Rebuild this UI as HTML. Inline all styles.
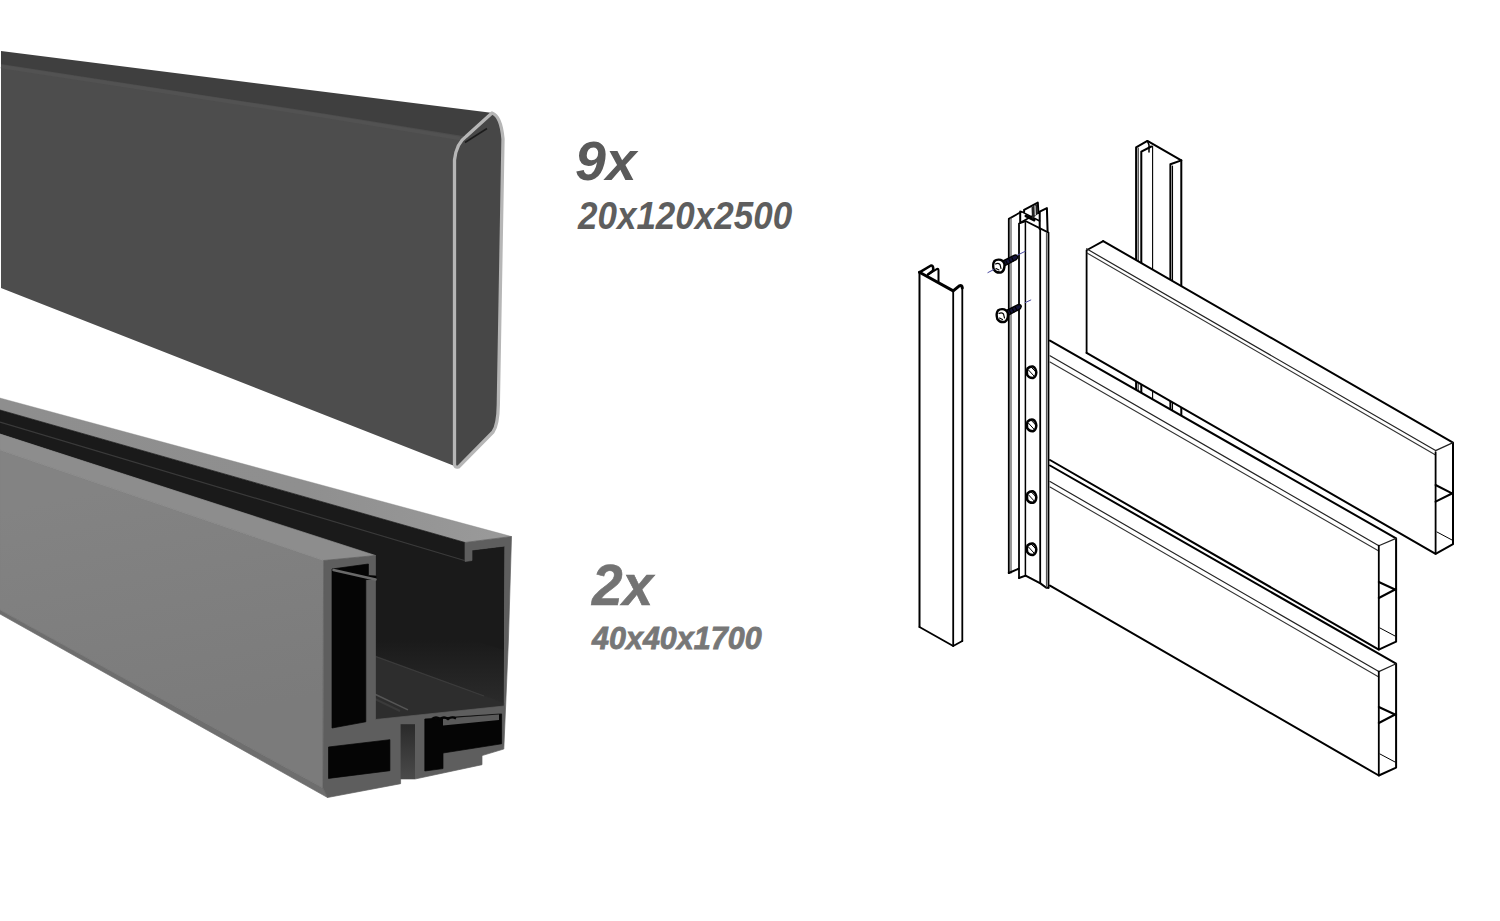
<!DOCTYPE html>
<html><head><meta charset="utf-8">
<style>
html,body{margin:0;padding:0;background:#fff;}
body{width:1500px;height:921px;overflow:hidden;position:relative;}
svg{position:absolute;left:0;top:0;}
.t{position:absolute;font-family:"Liberation Sans",sans-serif;font-weight:bold;font-style:italic;white-space:nowrap;line-height:1;}
</style></head>
<body>
<svg width="1500" height="921" viewBox="0 0 1500 921">
<!-- ===== TOP BEAM ===== -->
<g id="beam">
  <polygon points="1,51 493,113 463,140 330,118 1,68" fill="#3f3f3f"/>
  <path d="M1,64 L330,114.5 L466,136.5 Q456,143 454.5,160 L454.5,466 L1,288 Z" fill="#4d4d4d"/>
  <path d="M1,66.5 L330,117 L460,138.5" stroke="#525252" stroke-width="3.5" fill="none"/>
  <path d="M492,112 Q501,116 503,139 L498.3,405 Q498,425 493,432 L458.5,467 Q454.5,468 454.5,464 L454.5,160 Q456.5,143 466,136.5 Z" fill="#474747"/>
  <path d="M454.5,464 L454.5,160 Q456.5,143 466,136.5 L492,113 Q501,116 503,139 L498.3,405 Q498,425 493,432 L458.5,467 Q454.5,468 454.5,464 Z" fill="none" stroke="#b6b6b6" stroke-width="3.3" stroke-linejoin="round"/>
  <path d="M465,142.5 L487,128.5" stroke="#1c1c1c" stroke-width="1.6"/>
</g>
<!-- ===== U CHANNEL ===== -->
<g id="chan">
  <!-- lip top surface -->
  <defs><linearGradient id="lipg" gradientUnits="userSpaceOnUse" x1="0" y1="0" x2="511" y2="0"><stop offset="0" stop-color="#8e8e8e"/><stop offset="0.6" stop-color="#8f8f8f"/><stop offset="1" stop-color="#9a9a9a"/></linearGradient></defs>
  <polygon points="0,398 511.5,536.5 465,542.5 0,410" fill="url(#lipg)" stroke="#8e8e8e" stroke-width="0.4"/>
  <!-- dark channel interior -->
  <polygon points="0,410 465,542.5 465,561 472,558 472,550 504.5,546 504,713 375,730 375,556 0,434" fill="#1a1a1a" stroke="#1a1a1a" stroke-width="0.7"/>
  <path d="M0,422 L464.5,560.5" stroke="#3a3a3a" stroke-width="1.2"/>
  <!-- front wall top surface -->
  <polygon points="0,434 375.5,555.5 323.6,560.5 0,450" fill="#8d8d8d" stroke="#8d8d8d" stroke-width="0.7"/>
  <!-- front face -->
  <defs><linearGradient id="ffg" gradientUnits="userSpaceOnUse" x1="150" y1="480" x2="200" y2="720"><stop offset="0" stop-color="#838383"/><stop offset="1" stop-color="#7b7b7b"/></linearGradient></defs>
  <polygon points="0,450 323.6,560.5 323,788 0,610" fill="url(#ffg)" stroke="#7f7f7f" stroke-width="0.4"/>
  <polygon points="0,610 323,788 327.5,797.5 0,614" fill="#6e6e6e" stroke="#6e6e6e" stroke-width="0.7"/>
  <!-- channel floor -->
  <defs><linearGradient id="bwg" gradientUnits="userSpaceOnUse" x1="0" y1="640" x2="0" y2="700"><stop offset="0" stop-color="#1a1a1a"/><stop offset="1" stop-color="#2a2a2a"/></linearGradient></defs>
  <polygon points="375.5,610 504.2,650 504.2,704 375.5,656" fill="url(#bwg)"/>
  <polygon points="375.5,656 504.2,703 504.2,707 375.5,720.5" fill="#2d2d2d" stroke="#2d2d2d" stroke-width="0.7"/>
  <path d="M375.5,656.5 L484,696" stroke="#3c3c3c" stroke-width="1.2"/>
  <path d="M375,694.3 L408,709.9" stroke="#555" stroke-width="1.6"/>
  <path d="M375,699 L400,711" stroke="#3a3a3a" stroke-width="2"/>
  <!-- profile end face base -->
  <path d="M323.6,560.5 L375.5,555.5 L375.5,719.5 L504.2,706 L505,546 L472,550 L472,560.5 L465,561.5 L465,542.5 L511.5,536.5 L508.4,640 L503.8,749 L482,755.6 L482,764.7 L415,779 L400.6,779 L400.6,783.7 L327.5,797.5 L323,788 Z" fill="#5e5e5e" stroke="#5e5e5e" stroke-width="0.7"/>
  <!-- front wall inner black -->
  <path d="M332,569 L368.4,564 L368.4,575.5 L376,576 L376,579 L365.8,579.5 L365.8,721.8 L332,728 Z" fill="#050505" stroke="#050505" stroke-width="0.7"/>
  <path d="M333.5,570 L375.5,579.5" stroke="#6a6a6a" stroke-width="2.6" stroke-linecap="round"/>
  <!-- left bottom chamber -->
  <path d="M328.5,747 L389.9,739.7 L389.9,770.7 L328.5,778.4 Z" fill="#050505" stroke="#050505" stroke-width="0.7"/>
  <!-- slot -->
  <defs><linearGradient id="slotg" x1="0" y1="0" x2="0" y2="1"><stop offset="0" stop-color="#2a2a2a"/><stop offset="1" stop-color="#4a4a4a"/></linearGradient></defs>
  <polygon points="400.6,724.2 415,724.2 415,779 400.6,779" fill="url(#slotg)"/>
  <!-- right chamber -->
  <path d="M424.8,719 L501.6,713.9 L501.6,743.8 L443,753 L443,768.6 L424.8,771 Z" fill="#050505" stroke="#050505" stroke-width="0.7"/>
  <polygon points="443,718.5 499,714.5 499,720 443,725.5" fill="#5a5a5a"/>
  <path d="M432,719 Q436,716 440,719 Q444,716 448,719 Q452,716 456,718.5" stroke="#050505" stroke-width="2.2" fill="none"/>
</g>
</svg>

<div class="t" style="left:575px;top:133px;font-size:55.5px;color:#5a5a5a;transform:scaleY(1.015);transform-origin:0 0;">9x</div>
<div class="t" style="left:578px;top:195px;font-size:35px;color:#5e5e5e;transform:scaleY(1.12);transform-origin:0 0;">20x120x2500</div>
<div class="t" style="left:592px;top:558px;font-size:55px;color:#737373;-webkit-text-stroke:0.6px #737373;transform:scaleY(1.03);transform-origin:0 0;">2x</div>
<div class="t" style="left:592px;top:622px;font-size:30.5px;color:#777;-webkit-text-stroke:0.8px #777;transform:scaleY(1.03);transform-origin:0 0;">40x40x1700</div>

<svg width="1500" height="921" viewBox="0 0 1500 921" style="position:absolute;left:0;top:0;">
<g fill="none" stroke="#000" stroke-linecap="round" stroke-linejoin="round">
  <!-- cap piece -->
  <path d="M919.5,627 L953.2,646 L962.3,641" stroke-width="1.8"/>
  <path d="M919.5,627 L919.5,272.3" stroke-width="2.0"/>
  <path d="M953.2,291 L953.2,646" stroke-width="1.8"/>
  <path d="M962.3,288 L962.3,641" stroke-width="1.8"/>
  <path d="M919.5,272.3 L953.2,290.9 L959.3,285.8 Q962,284.5 962.3,288" stroke-width="3"/>
  <path d="M919.5,272.3 L931,265.5 Q933,265.3 933.2,268 L933.2,270.5 L928,274.5" stroke-width="2.6"/>
  <path d="M928,274.5 L937.1,268.9 Q938.5,268.3 938.5,270.5 L938.5,281.4" stroke-width="2.0"/>

  <!-- post -->
  <path d="M1008.8,573 L1008.8,218.9 L1021.5,211.7" stroke-width="1.8"/>
  <path d="M1011,573 L1011,218" stroke-width="1.2" stroke="#555"/>
  <path d="M1008.8,573 L1018.7,568.7" stroke-width="2"/>
  <path d="M1019,578 L1019,223.5 L1026,221.2 L1048.5,232.6 L1048.5,587.8" stroke-width="1.8"/>
  
  <path d="M1025.4,576 L1025.4,222.8" stroke-width="1.5"/>
  <path d="M1019,578 L1025.6,575.6 L1040.4,583.4 L1046.3,587.8 L1048.5,587.8" stroke-width="2"/>
  <path d="M1040.2,583 L1040.2,230" stroke-width="1.8"/>
  <path d="M1046.5,587 L1046.5,233" stroke-width="1.2" stroke="#555"/>
  <path d="M1020.2,222.8 L1020.2,211.5" stroke-width="2"/>
  <path d="M1039.7,229 L1039.7,211.7 L1046.9,208.1 L1047.6,231.3" stroke-width="2"/>
  <path d="M1024.1,212 L1024.1,209.8 L1037.8,202.6 L1038.4,213" stroke-width="2"/>
  <path d="M1021.5,211.7 L1039.7,221 M1021.5,222 L1039.7,212" stroke-width="1.5"/>
  <path d="M1026,216 L1034,220" stroke-width="3"/>
  <path d="M1031.5,207 L1037.2,204 L1037.8,214 L1032,219 Z" fill="#222" stroke="none"/>
  <path d="M1035,206 L1035.3,215" stroke="#ddd" stroke-width="1.2"/>
  <!-- bolts on post -->
  <g stroke-width="2.5">
    <g id="nut"><path d="M1027.5,368.5 Q1030,366 1033,366.5 Q1036,368 1036.3,372.5 Q1036,377 1033,378 Q1029,378.2 1027.2,375 Q1026.5,371 1027.5,368.5 Z" fill="#fff"/><path d="M1028.5,370 L1034,376 M1031,367 L1035.5,371.5" stroke-width="1"/></g>
    <use href="#nut" transform="translate(0,53.2)"/>
    <use href="#nut" transform="translate(0,124.8)"/>
    <use href="#nut" transform="translate(0,177)"/>
  </g>
  <!-- screws -->
  <g id="screw1">
    <path d="M1002,261.5 L1014.5,255.2 Q1017.5,254.5 1017.8,257 Q1017.5,259 1015.5,260 L1003.5,266.5 Z" fill="#14143a" stroke="#000" stroke-width="1.4"/>
    <path d="M1006,261 L1007.5,264 M1009,259.5 L1010.5,262.5 M1012,258 L1013.5,261" stroke="#000" stroke-width="1.2"/>
    <path d="M998.5,259.6 Q1003,259.5 1004.4,264 Q1005,270 1001.5,272.3 Q996.5,273.5 993.8,269.5 Q992.2,264 994.5,261 Q996,259.7 998.5,259.6 Z" fill="#fff" stroke="#000" stroke-width="2.4"/>
    <path d="M995.5,264 Q998,262.5 1000,264.5 L1001,268.5 M996,268.5 L999,270" stroke="#000" stroke-width="1.1"/>
  </g>
  <use href="#screw1" transform="translate(3.5,49.5)"/>
  <path d="M987.9,272.6 L993.9,269.5 M1017.4,255.2 L1025.2,251.3 M1025.2,302.6 L1030.8,300" stroke="#4a4aa0" stroke-width="1"/>

  <!-- back post -->
  <path d="M1136.1,425 L1136.1,147.4 L1147.4,140.9 L1181.3,160.4 L1181.3,425" stroke-width="2.0"/>
  <path d="M1138.2,425 L1138.2,148" stroke-width="1.2" stroke="#333"/>
  <path d="M1141.3,425 L1141.3,151.7 L1151.3,146.5" stroke-width="2"/>
  <path d="M1152.6,425 L1152.6,146" stroke-width="1.1"/>
  <path d="M1181.3,160.4 L1170.4,164.3 L1170.4,425" stroke-width="2"/>
  <path d="M1172.5,425 L1172.5,166" stroke-width="1.1"/>
  <path d="M1147.4,140.9 L1149,145 L1149,152" stroke-width="1.5"/>

  <!-- board 2 (middle) -->
  <path d="M1050,340.6 L1396.1,538.4 L1396.1,641.7 L1378.8,649.6 L1050,460 Z" fill="#fff" stroke="none"/>
  <path d="M1050,340.6 L1396.1,538.4 L1396.1,641.7 L1378.8,649.6 L1050,460" stroke-width="2.0"/>
  <path d="M1050,355.8 L1378.8,545.7 L1396.1,538.4" stroke-width="1.2" stroke="#222"/>
  <path d="M1050,362 L1378.8,551" stroke-width="1.1" stroke="#333"/>
  <path d="M1378.8,545.7 L1378.8,649.6" stroke-width="1.8"/>
  <path d="M1378.8,582 L1396.1,590 M1378.8,598 L1396.1,589" stroke-width="2"/>
  <path d="M1380,628 L1395,636" stroke-width="1"/>

  <!-- board 1 (top, front) -->
  <path d="M1086.6,250.3 L1103.2,241.1 L1453,442.6 L1453,544.2 L1435.6,553.8 L1086.6,352.8 Z" fill="#fff" stroke="none"/>
  <path d="M1103.2,241.1 L1453,442.6 L1453,544.2 L1435.6,553.8 L1086.6,352.8" stroke-width="2.0"/>
  <path d="M1086.6,352.8 L1086.6,250.3 L1103.2,241.1" stroke-width="1.8"/>
  <path d="M1086.6,248.8 L1435.6,450.6 L1453,442.6" stroke-width="1.2" stroke="#222"/>
  <path d="M1087,253 L1435.6,455" stroke-width="1.1" stroke="#333"/>
  <path d="M1435.6,452.1 L1435.6,553.8" stroke-width="1.8"/>
  <path d="M1435.6,485 L1453,493.8 M1435.6,501.7 L1453,493" stroke-width="2"/>
  <path d="M1437,532 L1452,540" stroke-width="1"/>

  <!-- board 3 (bottom) -->
  <path d="M1050,465.5 L1396.1,663.7 L1396.1,767.6 L1378.8,775.5 L1050,585.6" stroke-width="2.0"/>
  <path d="M1050,481.5 L1378.8,671.6 L1396.1,663.7" stroke-width="1.2" stroke="#222"/>
  <path d="M1050,487 L1378.8,677" stroke-width="1.1" stroke="#333"/>
  <path d="M1378.8,671.6 L1378.8,775.5" stroke-width="1.8"/>
  <path d="M1378.8,707 L1396.1,715 M1378.8,723 L1396.1,714" stroke-width="2"/>
  <path d="M1380,754 L1395,762" stroke-width="1"/>
</g>
</svg>
</body></html>
